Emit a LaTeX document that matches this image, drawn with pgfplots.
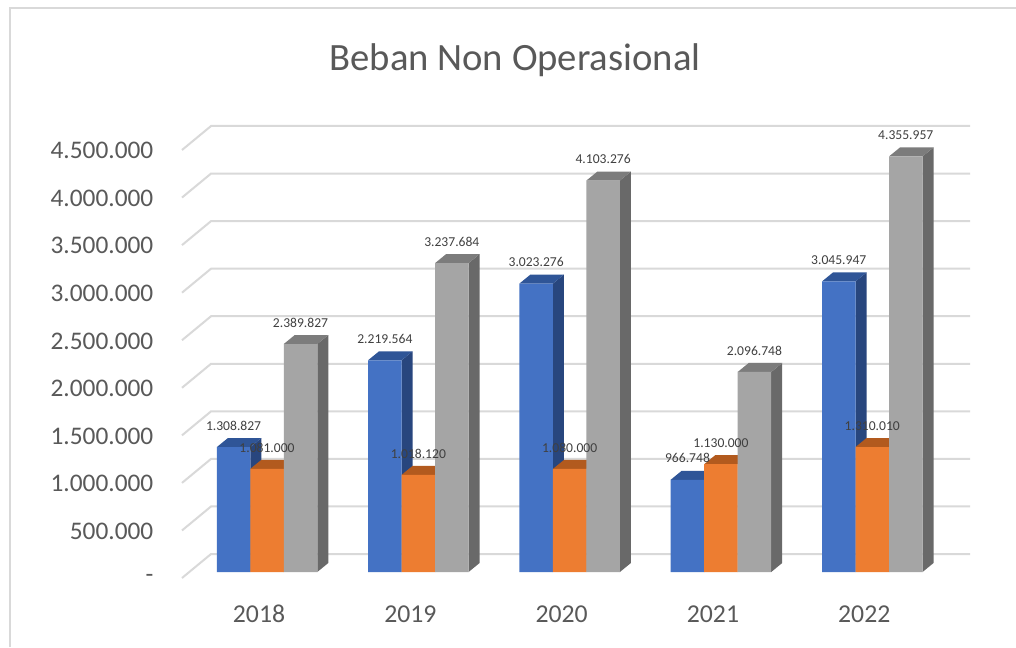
\documentclass[border=0pt]{standalone}
\usepackage{pgfplots}
\usepackage{pgfplotstable}
\pgfplotsset{compat=1.18}
\usepackage{fontspec}
\setmainfont{Carlito}
\definecolor{lab}{HTML}{595959}
\definecolor{dlab}{HTML}{404040}
\definecolor{gridc}{HTML}{D9D9D9}
\definecolor{frame}{HTML}{D9D9D9}
\definecolor{bF}{HTML}{4472C4}\definecolor{bS}{HTML}{28467E}\definecolor{bT}{HTML}{2F5597}
\definecolor{oF}{HTML}{ED7D31}\definecolor{oS}{HTML}{B25A1E}\definecolor{oT}{HTML}{B25A1E}
\definecolor{gF}{HTML}{A5A5A5}\definecolor{gS}{HTML}{696969}\definecolor{gT}{HTML}{7C7C7C}
\newcommand{\px}{0.75pt}
% depth faces of one bar: year, shift, value, side colour, top colour
\newcommand{\depth}[5]{%
  \pgfmathsetmacro{\xl}{#1+#2-0.1107}%
  \pgfmathsetmacro{\xr}{#1+#2+0.1107}%
  \pgfmathsetmacro{\xlb}{\xl+0.0727}%
  \pgfmathsetmacro{\xrb}{\xr+0.0727}%
  \edef\yt{\the\numexpr#3+94340\relax}%
  \edef\temp{\noexpand\addplot[fill=#4,draw=none,forget plot] coordinates {(\xr,0) (\xrb,94340) (\xrb,\yt) (\xr,#3)} --cycle;
  \noexpand\addplot[fill=#5,draw=none,forget plot] coordinates {(\xl,#3) (\xlb,\yt) (\xrb,\yt) (\xr,#3)} --cycle;}%
  \temp}
\pgfplotstableread{
year blue orange gray
2018 1308827 1081000 2389827
2019 2219564 1018120 3237684
2020 3023276 1080000 4103276
2021 966748 1130000 2096748
2022 3045947 1310010 4355957
}\data
\begin{document}
\begin{tikzpicture}
\begin{scope}[x=\px,y=\px]
\path[use as bounding box] (0,0) rectangle (1016,647);
\fill[white] (0,0) rectangle (1016,647);
\draw[frame,line width=1.6*\px] (10,0) -- (10,639) -- (1016,639);
\node[text=lab,font=\fontsize{29}{31}\selectfont] at (515,587) {Beban Non Operasional};
\end{scope}
% axis with ticks and wall grid
\begin{axis}[
  at={(136.5pt,51.75pt)},anchor=south west,width=591pt,height=321pt,scale only axis,
  xmin=2017.438,xmax=2022.646,ymin=0,ymax=4500000,
  clip=false,axis line style={draw=none},
  xtick={2018,2019,2020,2021,2022},
  x tick label style={/pgf/number format/1000 sep={},/pgf/number format/assume math mode=true,xshift=-6pt,yshift=-17pt,text=lab,font=\fontsize{19.3}{20}\selectfont},
  ytick={0,500000,1000000,1500000,2000000,2500000,3000000,3500000,4000000,4500000},
  yticklabels={\raisebox{-5pt}{-}\hspace{16.5pt},500.000,1.000.000,1.500.000,2.000.000,2.500.000,3.000.000,3.500.000,4.000.000,4.500.000},
  y tick label style={xshift=-18pt,yshift=-0.5pt,text=lab,font=\fontsize{19}{20}\selectfont},
  scaled y ticks=false,tick style={draw=none},
]
\pgfplotsinvokeforeach{0,500000,1000000,1500000,2000000,2500000,3000000,3500000,4000000,4500000}{
  \edef\yy{\the\numexpr#1+252336\relax}
  \edef\temp{\noexpand\addplot[gridc,line width=1.5pt,forget plot] coordinates {(2017.438,#1) (2017.63,\yy) (2022.646,\yy)};}
  \temp
}
\end{axis}
% bars
\begin{axis}[
  at={(136.5pt,51.75pt)},anchor=south west,width=591pt,height=321pt,scale only axis,
  xmin=2017.438,xmax=2022.646,ymin=-62893,ymax=4423480,
  clip=false,axis lines=none,
  bar width=0.2214,
]
\depth{2018}{-0.2214}{1308827}{bS}{bT}
\depth{2019}{-0.2214}{2219564}{bS}{bT}
\depth{2020}{-0.2214}{3023276}{bS}{bT}
\depth{2021}{-0.2214}{966748}{bS}{bT}
\depth{2022}{-0.2214}{3045947}{bS}{bT}
\addplot[ybar,bar shift=-0.2214,fill=bF,draw=none] table[x=year,y=blue]{\data};
\depth{2018}{0}{1081000}{oS}{oT}
\depth{2019}{0}{1018120}{oS}{oT}
\depth{2020}{0}{1080000}{oS}{oT}
\depth{2021}{0}{1130000}{oS}{oT}
\depth{2022}{0}{1310010}{oS}{oT}
\addplot[ybar,bar shift=0,fill=oF,draw=none] table[x=year,y=orange]{\data};
\depth{2018}{0.2214}{2389827}{gS}{gT}
\depth{2019}{0.2214}{3237684}{gS}{gT}
\depth{2020}{0.2214}{4103276}{gS}{gT}
\depth{2021}{0.2214}{2096748}{gS}{gT}
\depth{2022}{0.2214}{4355957}{gS}{gT}
\addplot[ybar,bar shift=0.2214,fill=gF,draw=none] table[x=year,y=gray]{\data};
% data labels on top of every bar
\pgfplotsset{lbl/.style={ybar,bar shift=0,draw=none,fill=none,forget plot,point meta=y,
  nodes near coords,
  every node near coord/.append style={text=dlab,font=\fontsize{10.2}{11}\selectfont,anchor=south,yshift=9pt,
    /pgf/number format/.cd,fixed,precision=0,1000 sep={.},assume math mode=true}}}
\addplot[lbl] table[x expr=\thisrow{year}-0.2214,y=blue]{\data};
\addplot[lbl] table[x=year,y=orange]{\data};
\addplot[lbl] table[x expr=\thisrow{year}+0.2214,y=gray]{\data};
\end{axis}
\end{tikzpicture}
\end{document}
